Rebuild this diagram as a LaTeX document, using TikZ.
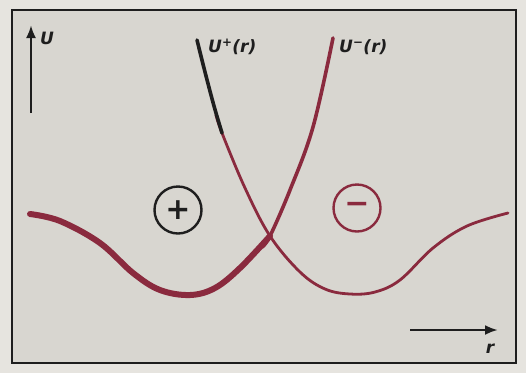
\documentclass[tikz,border=0pt]{standalone}
\usepackage{fontspec}
\setmainfont{DejaVu Sans}
\usetikzlibrary{arrows.meta}
\definecolor{paper}{HTML}{E6E4DF}
\definecolor{panel}{HTML}{D8D6D0}
\definecolor{wine}{HTML}{8A2A3E}
\definecolor{ink}{HTML}{1E1E1E}
\tikzset{
  lbl/.style={font=\bfseries\itshape\fontsize{17}{17}\selectfont, text=ink, inner sep=0pt},
  axis/.style={ink, line width=2.8pt, -{Latex[length=13pt,width=10pt]}},
  ion/.style={circle, draw, line width=2.4pt, minimum size=47pt, inner sep=0pt},
}
\begin{document}
\begin{tikzpicture}[x=1pt,y=-1pt]
\useasboundingbox (0,0) rectangle (526,373);
\fill[paper] (0,0) rectangle (526,373);
\fill[panel, draw=ink, line width=2.4pt] (12,10) rectangle (516,363);
% axes
\coordinate (ua) at (31,113);
\coordinate (ub) at (31,25);
\draw[axis] (ua) -- (ub);
\node[lbl, anchor=west] (U) at (40,38) {U};
\coordinate (ra) at (410,330);
\coordinate (rb) at (498,330);
\draw[axis] (ra) -- (rb);
\node[lbl] (r) at (490,349) {r};
% left curve (thick part, then thinner U^-)
\draw[wine, line width=6pt, line cap=round] plot[smooth, tension=0.6] coordinates
  {(30,214) (60,221) (100,243) (133,273) (160,290) (190,295) (215,288) (240,268) (270,236)};
\draw[wine, line width=3.6pt, line cap=round] plot[smooth, tension=0.6] coordinates
  {(262,247) (270,236) (290,190) (313,127) (333,38)};
% right curve
\draw[wine, line width=2.8pt, line cap=round] plot[smooth, tension=0.6] coordinates
  {(216,115) (222,133) (245,188) (270,236) (300,272) (325,289) (350,294) (375,292) (400,280) (433,248) (467,226) (508,213)};
\draw[ink, line width=3.6pt, line cap=round] plot[smooth, tension=0.6] coordinates
  {(197,40) (205,72) (214,106) (222,133)};
% labels
\node[lbl, anchor=west] (Up) at (208,47) {U\textsuperscript{+}(r)};
\node[lbl, anchor=west] (Um) at (339,47) {U\textsuperscript{−}(r)};
% ions
\node[ion, draw=ink, text=ink] (plus) at (178,210) {\fontsize{30}{30}\selectfont\bfseries +};
\node[ion, draw=wine, text=wine] (minus) at (357,208) {\fontsize{30}{30}\selectfont\bfseries −};
\end{tikzpicture}
\end{document}
